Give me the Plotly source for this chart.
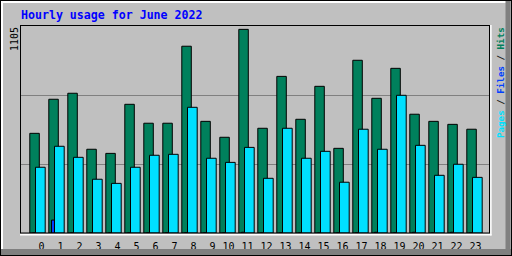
import plotly.graph_objects as go

hours = list(range(24))
hour_labels = [str(h) if h < 10 else str(h) + "\u00a0" for h in hours]
hits = [532, 714, 746, 447, 425, 687, 586, 586, 997, 596, 511, 1087,
        559, 836, 607, 783, 452, 922, 719, 879, 634, 596, 580, 554]
files = [0, 69, 0, 0, 0, 0, 0, 0, 0, 0, 0, 4,
         0, 0, 0, 0, 0, 0, 4, 0, 4, 0, 4, 0]
pages = [351, 463, 404, 287, 265, 351, 415, 420, 671, 399, 377, 457,
         292, 559, 399, 436, 271, 554, 447, 735, 468, 308, 367, 297]
y_max = 1105
title = "Hourly usage for June 2022"

W, H = 512, 256
L, R, T, B = 21, 489, 26, 233  # plot area in pixels
PW, PH = R - L, B - T

def px(x):
    return (x - L) / PW

def py(y):
    return (B - y) / PH

BG = "#C0C0C0"
GREEN = "#00805C"
BLUE = "#0040FF"
CYAN = "#00E0FF"

fig = go.Figure()
fig.add_trace(go.Bar(x=hours, y=hits, name="Hits", offset=-0.616, width=0.5,
                     marker=dict(color=GREEN, line=dict(color="black", width=1))))
fig.add_trace(go.Bar(x=hours, y=files, name="Files", offset=-0.474, width=0.5,
                     marker=dict(color=BLUE, line=dict(color="black", width=1))))
fig.add_trace(go.Bar(x=hours, y=pages, name="Pages", offset=-0.316, width=0.51,
                     marker=dict(color=CYAN, line=dict(color="black", width=1))))

x0 = (L - 41.5) / 19
x1 = (R - 41.5) / 19

shapes = []
def line(xa, ya, xb, yb, color, w=1):
    shapes.append(dict(type="line", xref="paper", yref="paper",
                       x0=px(xa), y0=py(ya), x1=px(xb), y1=py(yb),
                       line=dict(color=color, width=w), layer="above"))

# outer border
line(0, 0.5, 512, 0.5, "black")
line(0.5, 0, 0.5, 256, "black")
line(511.5, 0, 511.5, 256, "black")
line(0, 255.5, 512, 255.5, "black")
# highlights
line(1, 2, 510, 2, "white", 2)
line(2, 1, 2, 254, "white", 2)
# shadows
line(1, 252, 511, 252, "#808080", 6)
line(508, 1, 508, 255, "#808080", 5)
# inner frame
line(20, 25.5, 490, 25.5, "black")
line(20.5, 25, 20.5, 233, "black")
line(489.5, 25, 489.5, 233, "black")
line(20, 233, 490, 233, "black")
line(20, 234.7, 491.5, 234.7, "white", 1.5)
line(490.9, 25, 490.9, 235.5, "white", 1.5)

annotations = [
    dict(text="<b>" + title + "</b>", xref="paper", yref="paper",
         x=px(19), y=py(15), xanchor="left", yanchor="middle", showarrow=False,
         font=dict(family="DejaVu Sans Mono", size=11.6, color="#0000FF")),
    dict(text=str(y_max), xref="paper", yref="paper", x=px(15), y=py(39),
         xanchor="center", yanchor="middle", showarrow=False, textangle=-90,
         font=dict(family="DejaVu Sans Mono", size=10, color="black")),
    dict(text=("<span style='color:%s'>Pages</span> / "
               "<span style='color:%s'>Files</span> / "
               "<span style='color:%s'>Hits</span>") % (CYAN, BLUE, GREEN),
         xref="paper", yref="paper", x=px(500.5), y=py(82.5),
         xanchor="center", yanchor="middle", showarrow=False, textangle=-90,
         font=dict(family="DejaVu Sans Mono", size=9.2, color="#202020",
                   weight="bold")),
]

fig.update_layout(
    width=W, height=H, margin=dict(l=L, r=W - R, t=T, b=H - B, pad=0, autoexpand=False),
    paper_bgcolor=BG, plot_bgcolor=BG, showlegend=False, barmode="overlay",
    shapes=shapes, annotations=annotations,
    xaxis=dict(range=[x0, x1], tickvals=hours, ticktext=hour_labels,
               tickangle=0, automargin=False, ticklabelstandoff=6,
               showgrid=False, zeroline=False, showline=False, ticks="",
               tickfont=dict(family="DejaVu Sans Mono", size=10, color="black"),
               fixedrange=True),
    yaxis=dict(range=[0, y_max], tickvals=[y_max / 3, 2 * y_max / 3],
               showticklabels=False, showgrid=True, gridcolor="#808080",
               gridwidth=1, zeroline=False, showline=False, ticks="",
               automargin=False, fixedrange=True),
)
fig.write_html("out.html", config={"displayModeBar": False})
